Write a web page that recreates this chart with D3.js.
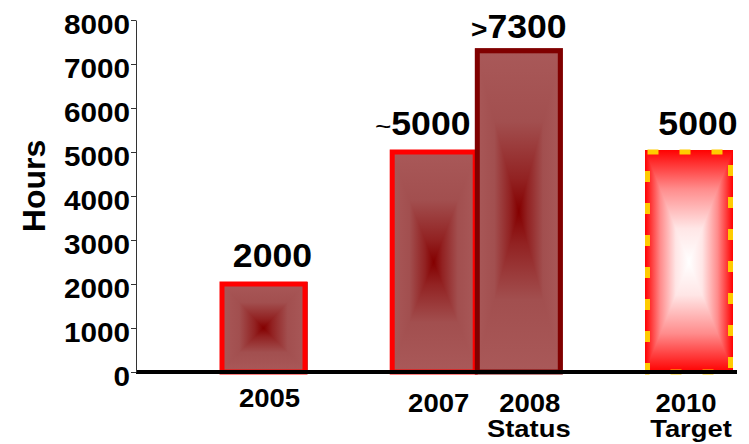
<!DOCTYPE html>
<html>
<head>
<meta charset="utf-8">
<script src="https://cdn.jsdelivr.net/npm/d3@7"></script>
<style>
  body { margin: 0; background: #fff; }
  svg { display: block; font-family: "Liberation Sans", Arial, sans-serif; }
</style>
</head>
<body>
<svg id="chart" width="749" height="444"></svg>
<script>
// data
var years = [2005, 2007, 2008, 2010];
var hours = [2000, 5000, 7300, 5000];
var valuePrefix = ["", "~", ">", ""];
var valueText = ["2000", "5000", "7300", "5000"];
var subLabels = ["", "", "Status", "Target"];
var yTicks = [0, 1000, 2000, 3000, 4000, 5000, 6000, 7000, 8000];

// layout / style (not data)
var barKind = ["dark", "dark", "dark", "target"];
var barStroke = ["#ff0000", "#ff0000", "#800000", "#ffcc00"];
var valueDx = [9, -11, 0, 9];
var valueDy = [-17, -17, -13, -17];
var yearDx = [6, 5, 11, -3];
var yearY = [407, 412, 412, 412];
var subDx = [0, 0, 10, 2];

var svg = d3.select('#chart');
var y = d3.scaleLinear().domain([0, 8000]).range([372, 20]);
var x = d3.scaleLinear().domain([2005, 2010]).range([263.5, 689]);
var barW = 88, sw = 5;

// gradients: 4 triangles per bar give a rectangular "from centre" fill
var defs = svg.append('defs');
var stops = {
  dark: [[0, '#a95959'], [0.45, '#a24f4f'], [0.8, '#922222'], [1, '#840000']],
  target: [[0, '#ff0000'], [0.08, '#ff2020'], [0.35, '#ff8c8c'], [0.7, '#ffe6e6'], [1, '#ffffff']]
};
var dirs = {l: [0, 0, 1, 0], r: [1, 0, 0, 0], t: [0, 0, 0, 1], b: [0, 1, 0, 0]};
Object.keys(stops).forEach(function(k){
  Object.keys(dirs).forEach(function(d){
    var g = defs.append('linearGradient').attr('id', 'g-' + k + '-' + d)
      .attr('x1', dirs[d][0]).attr('y1', dirs[d][1]).attr('x2', dirs[d][2]).attr('y2', dirs[d][3]);
    stops[k].forEach(function(s){
      g.append('stop').attr('offset', s[0]).attr('stop-color', s[1]);
    });
  });
});

var bars = svg.selectAll('.bar').data(years).enter().append('g').attr('class', 'bar');

bars.each(function(yr, i){
  var g = d3.select(this);
  var cx = x(yr), top = y(hours[i]), bot = y(0);
  var half = barW / 2;
  var L = cx - half, R = cx + half, T = top - sw / 2, B = bot;
  var cy = (top + bot) / 2;
  var k = barKind[i];
  var tris = {
    l: [[L, T], [cx, cy], [L, B]],
    r: [[R, T], [cx, cy], [R, B]],
    t: [[L, T], [R, T], [cx, cy]],
    b: [[L, B], [R, B], [cx, cy]]
  };
  Object.keys(tris).forEach(function(d){
    g.append('path')
      .attr('d', d3.line()(tris[d]) + 'Z')
      .attr('shape-rendering', 'crispEdges')
      .attr('fill', 'url(#g-' + k + '-' + d + ')');
  });
});

// baseline
svg.append('line')
  .attr('x1', 136).attr('x2', 737)
  .attr('y1', y(0)).attr('y2', y(0))
  .attr('stroke', '#000').attr('stroke-width', 4);

// bar outlines
bars.append('rect')
  .attr('x', function(d){ return x(d) - (barW - sw) / 2; })
  .attr('y', function(d, i){ return y(hours[i]); })
  .attr('width', barW - sw)
  .attr('height', function(d, i){ return y(0) - y(hours[i]); })
  .attr('fill', 'none')
  .attr('stroke', function(d, i){ return barStroke[i]; })
  .attr('stroke-width', sw)
  .attr('stroke-dasharray', function(d, i){ return barKind[i] == 'target' ? '11,21' : null; });

// y axis
var yAxis = svg.append('g')
  .attr('transform', 'translate(136,0)')
  .call(d3.axisLeft(y).tickValues(yTicks).tickFormat(d3.format('d'))
    .tickSize(5).tickSizeOuter(0).tickPadding(1));
yAxis.select('.domain').attr('stroke', '#333');
yAxis.selectAll('line').attr('stroke', '#333');
yAxis.selectAll('text')
  .attr('font-size', 27).attr('font-weight', 'bold').attr('fill', '#000')
  .attr('font-family', '"Liberation Sans", Arial, sans-serif')
  .attr('x', -6 / 1.1).attr('dy', '0.5em')
  .attr('transform', 'scale(1.1,1)');

svg.append('text')
  .attr('transform', 'translate(45,186) rotate(-90)')
  .attr('text-anchor', 'middle')
  .attr('font-size', 32).attr('font-weight', 'bold')
  .text('Hours');

// value labels
var vl = svg.selectAll('.value').data(years).enter().append('text')
  .attr('class', 'value')
  .attr('text-anchor', 'middle')
  .attr('transform', function(d, i){
    return 'translate(' + (x(d) + valueDx[i]) + ',' + (y(hours[i]) + valueDy[i]) + ') scale(1.08,1)';
  });
vl.append('tspan')
  .attr('font-size', function(d, i){ return valuePrefix[i] == '~' ? 26 : 26; })
  .attr('font-weight', function(d, i){ return valuePrefix[i] == '>' ? 'bold' : 'normal'; })
  .text(function(d, i){ return valuePrefix[i]; });
vl.append('tspan')
  .attr('font-size', 33).attr('font-weight', 'bold')
  .text(function(d, i){ return valueText[i]; });

// category labels
svg.selectAll('.year').data(years).enter().append('text')
  .attr('class', 'year')
  .attr('text-anchor', 'middle')
  .attr('font-size', 25).attr('font-weight', 'bold')
  .attr('transform', function(d, i){
    return 'translate(' + (x(d) + yearDx[i]) + ',' + yearY[i] + ') scale(1.1,1)';
  })
  .text(function(d){ return d; });

svg.selectAll('.sub').data(years).enter().append('text')
  .attr('class', 'sub')
  .attr('text-anchor', 'middle')
  .attr('font-size', 24).attr('font-weight', 'bold')
  .attr('transform', function(d, i){
    return 'translate(' + (x(d) + subDx[i]) + ',437) scale(1.14,1)';
  })
  .text(function(d, i){ return subLabels[i]; });
</script>
</body>
</html>
